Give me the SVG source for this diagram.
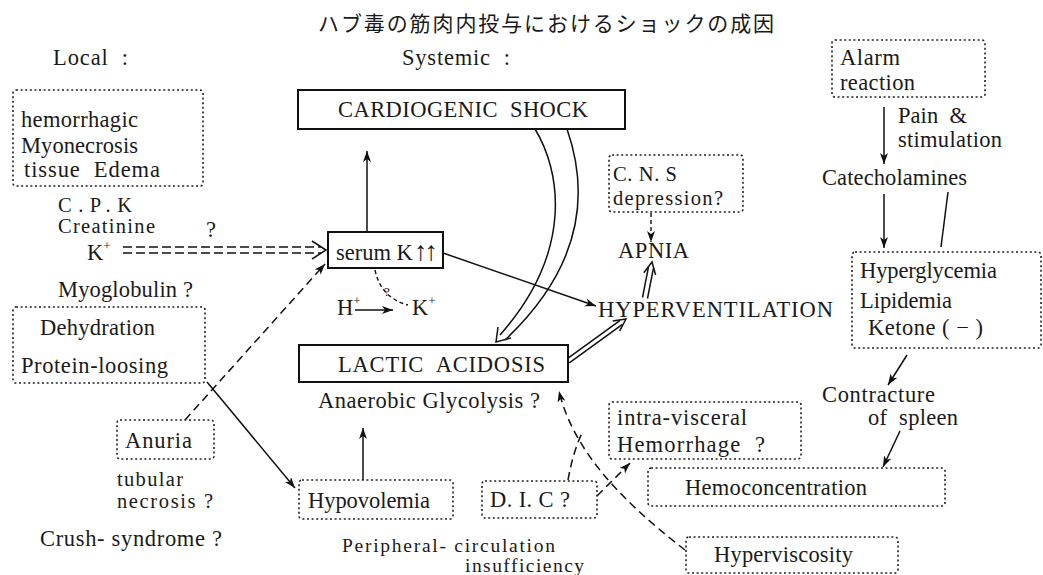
<svg xmlns="http://www.w3.org/2000/svg" width="1043" height="575" viewBox="0 0 1043 575">
<style>
text{font-family:"Liberation Serif","DejaVu Serif",serif;font-size:22.5px;fill:#1a1a1a}
.title{font-family:"Noto Sans CJK JP",sans-serif;font-size:21px;letter-spacing:1.9px}
.sm{font-size:20.5px}
.xs{font-size:19.5px}
.sup{font-size:13px}
.dot{fill:none;stroke:#222;stroke-width:1.6;stroke-dasharray:2 2.6}
.solid{fill:#fff;stroke:#111;stroke-width:2}
.ln{fill:none;stroke:#111;stroke-width:1.5}
.dash{fill:none;stroke:#111;stroke-width:1.5;stroke-dasharray:8 5}
.sdash{fill:none;stroke:#111;stroke-width:1.4;stroke-dasharray:4 3}
</style>
<defs>
<marker id="ah" markerWidth="12" markerHeight="10" refX="11" refY="4" orient="auto" markerUnits="userSpaceOnUse">
<path d="M0,0 L11,4 L0,8 L3,4 Z" fill="#111"/>
</marker>
</defs>
<rect width="1043" height="575" fill="#fff"/>
<text class="title" x="318" y="31">ハブ毒の筋肉内投与におけるショックの成因</text>
<text x="53" y="65" xml:space="preserve" textLength="75" lengthAdjust="spacing">Local  :</text>
<text x="402" y="65" xml:space="preserve" textLength="108" lengthAdjust="spacing">Systemic  :</text>

<g id="connectors">
<path class="ln" d="M367,231 L367,151" marker-end="url(#ah)"/>
<path class="ln" d="M207,382 L295,488" marker-end="url(#ah)"/>
<path class="ln" d="M363,480 L363,428" marker-end="url(#ah)"/>
<path class="ln" d="M443,253 L596,306" marker-end="url(#ah)"/>
<path class="ln" d="M355,310 L393,310" marker-end="url(#ah)"/>
<path class="ln" d="M884,107 L884,164" marker-end="url(#ah)"/>
<path class="ln" d="M884,194 L884,248" marker-end="url(#ah)"/>
<path class="ln" d="M948,192 L941,247"/>
<path class="ln" d="M907,355 L888,385" marker-end="url(#ah)"/>
<path class="ln" d="M900,431 L883,467" marker-end="url(#ah)"/>
<path class="sdash" d="M651,213 L651,242" marker-end="url(#ah)"/>
<path class="sdash" d="M375,270 Q381,298 408,305"/>
<path class="dash" d="M185,420 L325,264" marker-end="url(#ah)"/>
<path class="dash" d="M597,496 L630,463" marker-end="url(#ah)"/>
<path class="dash" d="M685,550 C640,515 575,460 559,391" marker-end="url(#ah)"/>
<path class="dash" d="M568,480 Q573,452 582,433"/>
<path class="dash" d="M123,247 L321,247 M123,253 L321,253" style="stroke-dasharray:9 4"/>
<path class="ln" d="M312,241 L326,250 L312,259"/>
<path class="ln" d="M535,129 C560,170 575,250 500,335"/>
<path class="ln" d="M567,129 C583,175 595,255 505,340"/>
<path class="ln" d="M498,327 L496,342 L511,338"/>
<path class="ln" d="M569.3,362.8 L622.4,324.3 M566.7,359.2 L619.8,320.7"/>
<path class="ln" d="M612.7,321.1 L626,319 L619.7,330.9"/>
<path class="ln" d="M647.5,298.5 L653.4,268.4 M642.5,297.5 L648.4,267.4"/>
<path class="ln" d="M643.8,272.7 L652,262 L655.6,274.9"/>
</g>
<text class="sup" x="384" y="296">?</text>

<g id="n-hemorrhagic">
<rect class="dot" x="13" y="90" width="190" height="96" rx="3"/>
<text x="21" y="127" textLength="117" lengthAdjust="spacing">hemorrhagic</text>
<text x="21" y="153" textLength="117" lengthAdjust="spacing">Myonecrosis</text>
<text x="24" y="177" xml:space="preserve" textLength="136" lengthAdjust="spacing">tissue  Edema</text>
</g>
<g id="n-cpk">
<text class="sm" x="58" y="212" textLength="74" lengthAdjust="spacing">C.P.K</text>
<text class="sm" x="58" y="233" textLength="97" lengthAdjust="spacing">Creatinine</text>
<text x="206" y="237">?</text>
<text x="87" y="260">K<tspan class="sup" dy="-10">+</tspan></text>
</g>
<text x="58" y="297" textLength="135" lengthAdjust="spacing">Myoglobulin ?</text>
<g id="n-dehydration">
<rect class="dot" x="13" y="307" width="192" height="76" rx="3"/>
<text x="40" y="335" textLength="115" lengthAdjust="spacing">Dehydration</text>
<text x="21" y="373" textLength="147" lengthAdjust="spacing">Protein-loosing</text>
</g>
<g id="n-anuria">
<rect class="dot" x="117" y="420" width="97" height="39" rx="3"/>
<text x="125" y="448" textLength="67" lengthAdjust="spacing">Anuria</text>
</g>
<text class="sm" x="117" y="486" textLength="66" lengthAdjust="spacing">tubular</text>
<text class="sm" x="117" y="508" textLength="96" lengthAdjust="spacing">necrosis ?</text>
<text x="40" y="546" textLength="182" lengthAdjust="spacing">Crush- syndrome ?</text>

<g id="n-cardiogenic">
<rect class="solid" x="298" y="90" width="327" height="39"/>
<text x="338" y="117" xml:space="preserve" textLength="250" lengthAdjust="spacing">CARDIOGENIC  SHOCK</text>
</g>
<g id="n-serumk">
<rect class="solid" x="328" y="232" width="115" height="36"/>
<text x="336" y="260">serum K<tspan dx="1" style="font-size:27px;letter-spacing:-3px">↑↑</tspan></text>
</g>
<g id="n-hk">
<text x="337" y="315">H<tspan class="sup" dy="-10">+</tspan></text>
<text x="412" y="315">K<tspan class="sup" dy="-10">+</tspan></text>
</g>
<g id="n-lactic">
<rect class="solid" x="299" y="345" width="269" height="37"/>
<text x="338" y="372" xml:space="preserve" textLength="207" lengthAdjust="spacing">LACTIC  ACIDOSIS</text>
</g>
<text x="318" y="408" textLength="222" lengthAdjust="spacing">Anaerobic Glycolysis ?</text>
<g id="n-hypovolemia">
<rect class="dot" x="299" y="480" width="154" height="39" rx="3"/>
<text x="308" y="508" textLength="122" lengthAdjust="spacing">Hypovolemia</text>
</g>
<text class="xs" x="342" y="552" textLength="213" lengthAdjust="spacing">Peripheral- circulation</text>
<text class="xs" x="465" y="572" textLength="119" lengthAdjust="spacing">insufficiency</text>
<g id="n-dic">
<rect class="dot" x="482" y="481" width="115" height="37" rx="3"/>
<text x="490" y="507" textLength="80" lengthAdjust="spacing">D. I. C ?</text>
</g>

<g id="n-cns">
<rect class="dot" x="609" y="155" width="134" height="57" rx="3"/>
<text class="sm" x="613" y="181" textLength="64" lengthAdjust="spacing">C. N. S</text>
<text class="sm" x="613" y="205" textLength="110" lengthAdjust="spacing">depression?</text>
</g>
<text id="n-apnia" x="618" y="258" textLength="71" lengthAdjust="spacing">APNIA</text>
<text id="n-hyperventilation" x="598" y="317" textLength="235" lengthAdjust="spacing">HYPERVENTILATION</text>
<g id="n-intravisceral">
<rect class="dot" x="609" y="402" width="192" height="57" rx="3"/>
<text x="617" y="425" textLength="130" lengthAdjust="spacing">intra-visceral</text>
<text x="617" y="452" xml:space="preserve" textLength="148" lengthAdjust="spacing">Hemorrhage  ?</text>
</g>
<g id="n-hemoconcentration">
<rect class="dot" x="648" y="468" width="297" height="38" rx="3"/>
<text x="685" y="495" textLength="182" lengthAdjust="spacing">Hemoconcentration</text>
</g>
<g id="n-hyperviscosity">
<rect class="dot" x="686" y="537" width="212" height="36" rx="3"/>
<text x="714" y="562" textLength="139" lengthAdjust="spacing">Hyperviscosity</text>
</g>

<g id="n-alarm">
<rect class="dot" x="832" y="40" width="153" height="57" rx="3"/>
<text x="840" y="65" textLength="60" lengthAdjust="spacing">Alarm</text>
<text x="840" y="90" textLength="75" lengthAdjust="spacing">reaction</text>
</g>
<text x="898" y="123" xml:space="preserve" textLength="69" lengthAdjust="spacing">Pain  &amp;</text>
<text x="898" y="147" textLength="104" lengthAdjust="spacing">stimulation</text>
<text id="n-catecholamines" x="822" y="185" textLength="145" lengthAdjust="spacing">Catecholamines</text>
<g id="n-hyperglycemia">
<rect class="dot" x="852" y="252" width="189" height="96" rx="3"/>
<text x="860" y="278" textLength="137" lengthAdjust="spacing">Hyperglycemia</text>
<text x="860" y="308" textLength="92" lengthAdjust="spacing">Lipidemia</text>
<text x="868" y="335" xml:space="preserve" textLength="115" lengthAdjust="spacing">Ketone ( − )</text>
</g>
<g id="n-contracture">
<text x="822" y="402" textLength="113" lengthAdjust="spacing">Contracture</text>
<text x="868" y="425" xml:space="preserve" textLength="90" lengthAdjust="spacing">of  spleen</text>
</g>
</svg>
